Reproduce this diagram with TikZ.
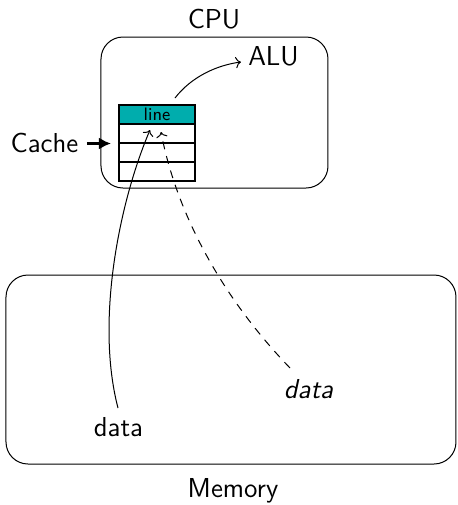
\documentclass[tikz,border=0pt]{standalone}
\usetikzlibrary{arrows.meta}
\definecolor{linefill}{RGB}{0,173,173}
\begin{document}
\begin{tikzpicture}[x=0.5pt,y=-0.5pt,
  font=\sffamily\fontsize{13.7}{16}\selectfont,
  box/.style={draw, rounded corners=11pt, line width=0.5pt, inner sep=0pt},
  cell/.style={draw, line width=1pt, inner sep=0pt, minimum width=38pt, minimum height=9.5pt},
  label/.style={anchor=base},
  flow/.style={->, line width=0.5pt},
  dashflow/.style={->, line width=0.5pt, dash pattern=on 4pt off 3.5pt}]
\useasboundingbox (0,0) rectangle (457,505);

% processor and memory enclosures
\node[box, minimum width=113.5pt, minimum height=75.5pt] (cpu) at (214.5,112.5) {};
\node[box, minimum width=225pt, minimum height=94.5pt] (mem) at (231,369.5) {};
\node[label] (cpulbl) at (214,28) {CPU};
\node[label] (memlbl) at (233,497) {Memory};

% cache with four lines
\node[cell, fill=linefill, font=\sffamily\fontsize{9}{10}\selectfont] (r1) at (157,114.5) {line};
\node[cell] (r2) at (157,133.5) {};
\node[cell] (r3) at (157,152.5) {};
\node[cell] (r4) at (157,171.5) {};

\node[label] (alu) at (273.5,65) {ALU};
\node[label] (cache) at (44.5,152) {Cache};
\node[label] (udata) at (118.5,436) {data};
\node[label] (idata) at (308.5,398) {\itshape data};

\coordinate (aluout) at (175,98);
\coordinate (inA) at (150,130);
\coordinate (inB) at (161,132);
\coordinate (dstart) at (290,368);
\coordinate (datatop) at (118,408);
\coordinate (cachetip) at (111,143.5);
\coordinate (cachetail) at (87,143.5);

% connectors
\draw[flow] (aluout) .. controls (192,76) and (218,65) .. (241,62);
\draw[line width=1.3pt, -{Latex[length=6pt,width=6pt]}] (cachetail) -- (cachetip);
\draw[flow] (datatop) .. controls (95,320) and (120,200) .. (inA);
\draw[dashflow] (dstart) .. controls (215,290) and (175,205) .. (inB);
\end{tikzpicture}
\end{document}
